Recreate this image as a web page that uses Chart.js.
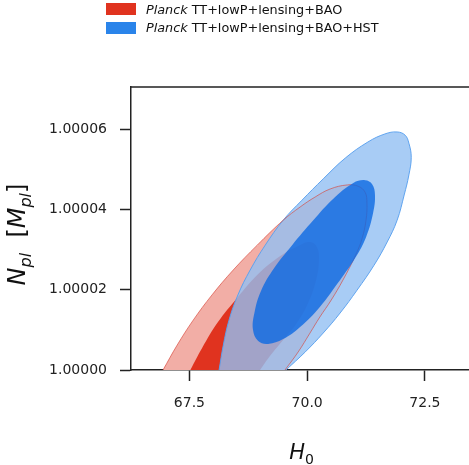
<!DOCTYPE html>
<html>
<head>
<meta charset="utf-8">
<script src="https://cdn.jsdelivr.net/npm/chart.js@4.4.0/dist/chart.umd.min.js"></script>
<style>
  html, body { margin: 0; padding: 0; background: #fff; overflow: hidden; }
  #wrap { position: relative; width: 469px; height: 465px; overflow: hidden; }
  #chart { position: absolute; left: 0; top: 0; }
  .legend { position: absolute; left: 106px; top: 0; font: 12.8px "DejaVu Sans", sans-serif; color: #111; }
  .legend div { display: flex; align-items: center; height: 18.5px; white-space: nowrap; }
  .legend .box { display: inline-block; width: 30px; height: 12px; margin-right: 10px; }
</style>
</head>
<body>
<div id="wrap">
  <canvas id="chart" width="482" height="465"></canvas>
  <div class="legend">
    <div><span class="box" style="background:#e0331f"></span><span><i>Planck</i> TT+lowP+lensing+BAO</span></div>
    <div><span class="box" style="background:#2a84ea"></span><span><i>Planck</i> TT+lowP+lensing+BAO+HST</span></div>
  </div>
</div>
<script>
const xTicks = [67.5, 70.0, 72.5];
const yTicks = [1.00000, 1.00002, 1.00004, 1.00006];

// axis titles: [text, italic?, subscript?]
const xTitle = [['H', true, false], ['0', false, true]];
const yTitle = [['N', true, false], ['pl', true, true], ['  [', false, false],
  ['M', true, false], ['pl', true, true], [']', false, false]];

// Planck TT+lowP+lensing+BAO, 95% and 68% contours
const red95H0 = [66.94, 67.24, 67.58, 67.98, 68.43, 68.94, 69.49, 69.85, 70.17, 70.49, 70.85, 71.08,
  71.23, 71.27, 71.25, 71.17, 71.04, 70.76, 70.51, 70.27, 70.06, 69.81, 69.53];
const red95Npl = [1.0, 1.0000062, 1.0000124, 1.0000187, 1.0000249, 1.0000311, 1.0000373, 1.0000406,
  1.0000431, 1.0000451, 1.0000461, 1.0000458, 1.0000443, 1.0000416, 1.0000373, 1.0000329, 1.0000289,
  1.0000224, 1.0000174, 1.0000132, 1.0000092, 1.0000045, 1.0];
const red68H0 = [67.52, 67.77, 68.11, 68.51, 68.96, 69.43, 69.81, 70.06, 70.21, 70.25, 70.19, 70.02,
  69.77, 69.49, 69.21, 69.00];
const red68Npl = [1.0, 1.0000055, 1.0000120, 1.0000179, 1.0000239, 1.0000284, 1.0000309, 1.0000319,
  1.0000306, 1.0000274, 1.0000224, 1.0000167, 1.0000115, 1.0000075, 1.0000035, 1.0];

// Planck TT+lowP+lensing+BAO+HST
const blue95H0 = [68.13, 68.22, 68.34, 68.53, 68.79, 69.11, 69.49, 69.89, 70.34, 70.81, 71.29, 71.65,
  71.91, 72.08, 72.16, 72.21, 72.16, 72.06, 71.91, 71.70, 71.42, 71.06, 70.70, 70.34, 69.96, 69.55];
const blue95Npl = [1.0, 1.0000062, 1.0000124, 1.0000187, 1.0000249, 1.0000311, 1.0000373, 1.0000423,
  1.0000476, 1.0000528, 1.0000568, 1.0000588, 1.0000593, 1.0000585, 1.0000565, 1.0000530, 1.0000486,
  1.0000436, 1.0000373, 1.0000319, 1.0000261, 1.0000199, 1.0000142, 1.0000092, 1.0000045, 1.0];
const blue68H0 = [70.70, 70.27, 69.85, 69.49, 69.17, 68.96, 68.85, 68.88, 69.02, 69.30, 69.68, 70.13,
  70.55, 70.98, 71.23, 71.38, 71.44, 71.40, 71.25, 71.02, 70.70];
const blue68Npl = [1.0000224, 1.0000157, 1.0000107, 1.0000077, 1.0000065, 1.0000072, 1.0000100,
  1.0000142, 1.0000197, 1.0000254, 1.0000311, 1.0000373, 1.0000426, 1.0000466, 1.0000473, 1.0000463,
  1.0000436, 1.0000391, 1.0000331, 1.0000279, 1.0000224];

const FONT = '"DejaVu Sans", sans-serif';
Chart.defaults.font.family = FONT;
Chart.defaults.color = '#222';

function pts(xs, ys) {
  return xs.map((x, i) => ({ x, y: ys[i] }));
}

function contour(label, xs, ys, fillColor, lineColor, order) {
  return {
    label,
    data: pts(xs, ys),
    order,
    fill: fillColor ? 'shape' : false,
    backgroundColor: fillColor || 'transparent',
    borderColor: lineColor || 'transparent',
    borderWidth: lineColor ? 1 : 0,
    pointRadius: 0,
    tension: 0.4,
    capBezierPoints: false,
  };
}

// writes a title made of pieces (subscripts smaller and lowered), centred on 0
function drawTitle(ctx, parts, size) {
  const sub = Math.round(size * 0.68);
  const fontOf = (p) => `${p[1] ? 'italic ' : ''}${p[2] ? sub : size}px ${FONT}`;
  let total = 0;
  parts.forEach((p) => { ctx.font = fontOf(p); total += ctx.measureText(p[0]).width; });
  let x = -total / 2;
  parts.forEach((p) => {
    ctx.font = fontOf(p);
    ctx.fillText(p[0], x, p[2] ? size * 0.24 : 0);
    x += ctx.measureText(p[0]).width;
  });
}

// top edge of the box and the two axis titles
const frame = {
  id: 'frame',
  afterDraw(chart) {
    const { ctx, chartArea: a } = chart;
    ctx.save();
    ctx.strokeStyle = '#222';
    ctx.lineWidth = 1.5;
    ctx.beginPath();
    ctx.moveTo(a.left, a.top);
    ctx.lineTo(a.right, a.top);
    ctx.lineTo(a.right, a.bottom);
    ctx.stroke();

    ctx.fillStyle = '#111';
    ctx.textBaseline = 'alphabetic';
    ctx.save();
    ctx.translate((a.left + a.right) / 2, a.bottom + 89);
    drawTitle(ctx, xTitle, 21);
    ctx.restore();
    ctx.save();
    ctx.translate(25, (a.top + a.bottom) / 2 + 6);
    ctx.rotate(-Math.PI / 2);
    drawTitle(ctx, yTitle, 24);
    ctx.restore();
    ctx.restore();
  },
};

function axis(ticks, digits, extra) {
  return Object.assign({
    type: 'linear',
    z: 1,
    border: { display: true, color: '#222', width: 1.5 },
    grid: { drawOnChartArea: false, drawTicks: true, tickLength: 11, tickColor: '#222', tickWidth: 1.5 },
    ticks: { autoSkip: false, font: { size: 14 }, color: '#222', callback: (v) => Number(v).toFixed(digits) },
    afterBuildTicks: (s) => { s.ticks = ticks.map((v) => ({ value: v })); },
    title: { display: false },
  }, extra);
}

new Chart(document.getElementById('chart'), {
  type: 'line',
  data: {
    datasets: [
      contour('blue68', blue68H0, blue68Npl, 'rgba(12,105,226,0.8)', null, 1),
      contour('red95 line', red95H0, red95Npl, null, 'rgba(215,70,60,0.65)', 2),
      contour('blue95', blue95H0, blue95Npl, 'rgba(146,191,243,0.8)', 'rgba(90,160,238,0.95)', 3),
      contour('red68', red68H0, red68Npl, '#e0331f', null, 4),
      contour('red95', red95H0, red95Npl, '#f2aea6', null, 5),
    ],
  },
  options: {
    responsive: false,
    animation: false,
    devicePixelRatio: 1,
    layout: { padding: { top: 87, left: 4, right: 10, bottom: 0 } },
    plugins: { legend: { display: false }, tooltip: { enabled: false } },
    scales: {
      x: axis(xTicks, 1, {
        position: 'bottom', min: 66.26, max: 73.5,
        afterFit: (s) => { s.height = 95; },
      }),
      y: axis(yTicks, 5, {
        position: 'left', min: 1.0, max: 1.0000705,
        afterFit: (s) => { s.width = 127; },
      }),
    },
  },
  plugins: [frame],
});

// label spacing
const c = Chart.getChart('chart');
c.options.scales.x.ticks.padding = 14;
c.options.scales.y.ticks.padding = 13;
c.update();
</script>
</body>
</html>
